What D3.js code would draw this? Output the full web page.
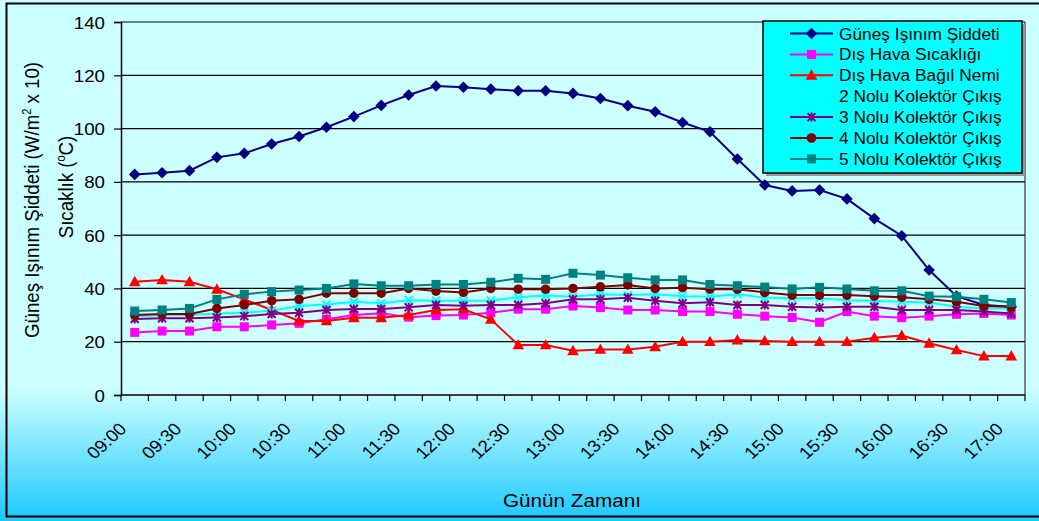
<!DOCTYPE html>
<html>
<head>
<meta charset="utf-8">
<script src="https://cdn.jsdelivr.net/npm/d3@7"></script>
<style>
  html, body { margin: 0; padding: 0; background: #fff; }
  svg { display: block; }
  text { font-family: "Liberation Sans", Arial, sans-serif; fill: #000; }
</style>
</head>
<body>
<svg id="chart" width="1039" height="521"></svg>
<script>
// Time of day, 15-minute steps from 09:00 to 17:00
const times = ["09:00","09:15","09:30","09:45","10:00","10:15","10:30","10:45",
  "11:00","11:15","11:30","11:45","12:00","12:15","12:30","12:45","13:00","13:15",
  "13:30","13:45","14:00","14:15","14:30","14:45","15:00","15:15","15:30","15:45",
  "16:00","16:15","16:30","16:45","17:00"];
// Only the half-hour marks get a label
const timeLabels = times.filter((t, i) => i % 2 === 0);
const yTicks = [0, 20, 40, 60, 80, 100, 120, 140];

const solar = [82.8, 83.4, 84.2, 89.2, 90.7, 94.2, 97.0, 100.5, 104.5, 108.7, 112.6, 116.0,
  115.5, 114.8, 114.2, 114.2, 113.2, 111.3, 108.6, 106.3, 102.3, 98.8, 88.6, 78.8,
  76.6, 76.9, 73.6, 66.2, 59.8, 46.9, 37.1, 33.8, 33.1];
const outdoorTemp = [23.5, 24.0, 24.0, 25.6, 25.6, 26.3, 26.9, 28.4, 30.0, 30.7, 29.2, 29.8,
  30.0, 30.9, 32.2, 32.2, 33.4, 32.8, 31.9, 31.9, 31.3, 31.3, 30.3, 29.6,
  29.1, 27.3, 31.3, 29.6, 29.0, 29.6, 30.3, 30.6, 30.0];
const humidity = [42.5, 43.2, 42.5, 39.7, 35.9, 31.9, 27.8, 27.8, 29.0, 29.0, 30.0, 31.9,
  32.2, 28.4, 18.8, 18.8, 16.6, 17.1, 17.1, 18.1, 20.0, 20.0, 20.6, 20.3,
  20.0, 20.0, 20.0, 21.5, 22.3, 19.4, 16.9, 14.6, 14.6];
const collector2 = [29.6, 30.0, 30.0, 30.6, 30.9, 31.6, 33.4, 34.0, 35.0, 34.4, 35.6, 35.4,
  35.4, 35.4, 36.7, 37.3, 36.9, 37.8, 37.5, 37.8, 37.1, 36.9, 37.8, 36.6,
  36.3, 36.3, 35.6, 35.3, 35.0, 34.7, 33.1, 32.5, 32.5];
const collector3 = [28.5, 28.8, 28.8, 29.1, 29.6, 30.4, 30.9, 31.9, 32.3, 32.3, 32.9, 33.8,
  33.5, 33.8, 33.8, 34.4, 35.9, 35.9, 36.5, 35.4, 34.4, 34.8, 33.8, 33.8,
  33.1, 32.8, 33.1, 33.1, 31.9, 31.9, 31.9, 31.3, 30.6];
const collector4 = [30.0, 30.4, 30.4, 32.5, 33.8, 35.4, 35.9, 38.2, 38.2, 38.2, 40.0, 39.0,
  38.5, 40.0, 39.7, 39.7, 40.0, 40.6, 41.3, 40.0, 40.3, 39.7, 39.7, 38.5,
  37.5, 37.5, 37.5, 37.1, 36.7, 35.9, 35.0, 33.4, 33.1];
const collector5 = [31.5, 31.9, 32.5, 35.9, 37.8, 38.8, 39.4, 40.0, 41.7, 41.0, 41.0, 41.5,
  41.5, 42.3, 43.8, 43.4, 45.7, 45.0, 44.0, 43.2, 43.2, 41.5, 41.0, 40.5,
  39.8, 40.4, 39.8, 39.1, 39.1, 37.1, 36.9, 35.9, 34.7];

const seriesNames = ["Güneş Işınım Şiddeti", "Dış Hava Sıcaklığı", "Dış Hava Bağıl Nemi",
  "2 Nolu Kolektör Çıkış", "3 Nolu Kolektör Çıkış", "4 Nolu Kolektör Çıkış", "5 Nolu Kolektör Çıkış"];
const seriesValues = [solar, outdoorTemp, humidity, collector2, collector3, collector4, collector5];
const seriesColors = ["#000080", "#ff00ff", "#ff0000", "#00ffff", "#800080", "#800000", "#008080"];
const seriesMarkers = ["diamond", "square", "triangle", "cross", "star", "circle", "square"];

const svg = d3.select("#chart");
const W = 1039, H = 521;
const plot = { left: 121, right: 1025, top: 22, bottom: 395 };

// Chart background: pale cyan fading to a stronger blue at the bottom
const defs = svg.append("defs");
const grad = defs.append("linearGradient").attr("id", "bg")
  .attr("gradientUnits", "userSpaceOnUse").attr("x1", 0).attr("y1", 388).attr("x2", 0).attr("y2", 521);
grad.append("stop").attr("offset", 0).attr("stop-color", "#ccffff");
grad.append("stop").attr("offset", 1).attr("stop-color", "#1cc8ff");
svg.append("rect").attr("width", W).attr("height", H).attr("fill", "url(#bg)");
svg.append("rect").attr("x", 6.5).attr("y", 3.5).attr("width", 1040).attr("height", 513)
  .attr("fill", "none").attr("stroke", "#000").attr("stroke-width", 2);

const x = d3.scaleBand().domain(times).range([plot.left, plot.right]).padding(0);
const y = d3.scaleLinear().domain([0, 140]).range([plot.bottom, plot.top]);
const cx = t => x(t) + x.bandwidth() / 2;

// Plot area
svg.append("rect").attr("x", plot.left).attr("y", plot.top)
  .attr("width", plot.right - plot.left).attr("height", plot.bottom - plot.top)
  .attr("fill", "#ccffff");
svg.append("line").attr("x1", plot.right).attr("x2", plot.right)
  .attr("y1", plot.top).attr("y2", plot.bottom).attr("stroke", "#808080").attr("stroke-width", 2);

// Horizontal gridlines
svg.append("g").selectAll("line").data(yTicks.filter(v => v > 0)).join("line")
  .attr("x1", plot.left).attr("x2", plot.right)
  .attr("y1", d => y(d)).attr("y2", d => y(d))
  .attr("stroke", "#000").attr("stroke-width", 1.2);

// Y axis
const yAxis = svg.append("g").attr("transform", `translate(${plot.left},0)`)
  .call(d3.axisLeft(y).tickValues(yTicks).tickSize(7).tickPadding(9).tickFormat(d3.format("d")));
yAxis.select(".domain").attr("stroke", "#000").attr("stroke-width", 1.5);
yAxis.selectAll(".tick line").attr("stroke", "#000").attr("stroke-width", 1.2);
yAxis.selectAll(".tick text")
  .attr("x", null).attr("dy", null).attr("font-size", 17).attr("text-anchor", "end")
  .attr("transform", "translate(-16,6) scale(1.1,1)");

// X axis: tick marks on category boundaries, labels on every other category
const xAxis = svg.append("g").attr("transform", `translate(0,${plot.bottom})`)
  .call(d3.axisBottom(x).tickValues(timeLabels).tickSize(0).tickPadding(0));
xAxis.select(".domain").remove();
svg.append("line").attr("x1", plot.left).attr("x2", plot.right)
  .attr("y1", plot.bottom).attr("y2", plot.bottom).attr("stroke", "#000").attr("stroke-width", 1.5);
svg.append("g").selectAll("line").data(times.map(t => x(t)).concat([plot.right])).join("line")
  .attr("x1", d => d).attr("x2", d => d)
  .attr("y1", plot.bottom).attr("y2", plot.bottom + 6)
  .attr("stroke", "#000").attr("stroke-width", 1.2);
xAxis.selectAll(".tick text")
  .attr("y", null).attr("dy", null).attr("font-size", 17).attr("text-anchor", "end")
  .attr("transform", "translate(-7,35) scale(1.1,1) rotate(-45)");

// Axis titles
svg.append("text").attr("font-size", 18.5).attr("text-anchor", "middle")
  .attr("transform", "translate(572,507) scale(1.12,1)").text("Günün Zamanı");

const yt1 = svg.append("text").attr("font-size", 18.7).attr("text-anchor", "middle")
  .attr("transform", "translate(39,200) scale(1.1,1) rotate(-90)");
yt1.append("tspan").text("Güneş Işınım Şiddeti (W/m");
yt1.append("tspan").attr("font-size", 11).attr("dy", -7).text("2");
yt1.append("tspan").attr("dy", 7).text(" x 10)");

const yt2 = svg.append("text").attr("font-size", 18.7).attr("text-anchor", "middle")
  .attr("transform", "translate(73,187) scale(1.1,1) rotate(-90)");
yt2.append("tspan").text("Sıcaklık (");
yt2.append("tspan").attr("font-size", 11).attr("dy", -7).text("o");
yt2.append("tspan").attr("dy", 7).text("C)");

// Marker shapes
function drawMarker(g, kind, color) {
  const s = {
    diamond: () => g.append("path").attr("d", "M0,-5.8L5.8,0L0,5.8L-5.8,0Z").attr("fill", color),
    square: () => g.append("rect").attr("x", -4.5).attr("y", -4.5).attr("width", 9).attr("height", 9).attr("fill", color),
    triangle: () => g.append("path").attr("d", "M0,-6L5.8,4.4L-5.8,4.4Z").attr("fill", color),
    circle: () => g.append("circle").attr("r", 4.8).attr("fill", color),
    cross: () => g.append("path").attr("d", "M-4,-4L4,4M-4,4L4,-4").attr("stroke", color).attr("stroke-width", 2).attr("fill", "none"),
    star: () => g.append("path").attr("d", "M-4,-4L4,4M-4,4L4,-4M0,-4.5L0,4.5").attr("stroke", color).attr("stroke-width", 2).attr("fill", "none")
  };
  s[kind]();
}

// Series: line then markers, drawn in legend order
const line = d3.line().x((d, i) => cx(times[i])).y(d => y(d));
seriesValues.forEach((vals, k) => {
  const g = svg.append("g");
  g.append("path").datum(vals).attr("d", line)
    .attr("fill", "none").attr("stroke", seriesColors[k]).attr("stroke-width", 2);
  vals.forEach((v, i) => {
    const m = g.append("g").attr("transform", `translate(${cx(times[i])},${y(v)})`);
    drawMarker(m, seriesMarkers[k], seriesColors[k]);
  });
});

// Legend
const lg = svg.append("g");
lg.append("rect").attr("x", 766).attr("y", 24).attr("width", 259).attr("height", 152).attr("fill", "#999");
lg.append("rect").attr("x", 763).attr("y", 21).attr("width", 259).attr("height", 152)
  .attr("fill", "#00ffff").attr("stroke", "#000").attr("stroke-width", 1.5);
seriesNames.forEach((name, k) => {
  const ry = 33.5 + k * 20.9;
  lg.append("line").attr("x1", 790).attr("x2", 833).attr("y1", ry).attr("y2", ry)
    .attr("stroke", seriesColors[k]).attr("stroke-width", 2);
  drawMarker(lg.append("g").attr("transform", `translate(811.5,${ry})`), seriesMarkers[k], seriesColors[k]);
  lg.append("text").attr("font-size", 16.5)
    .attr("transform", `translate(839,${ry + 6}) scale(1.05,1)`).text(name);
});
</script>
</body>
</html>
